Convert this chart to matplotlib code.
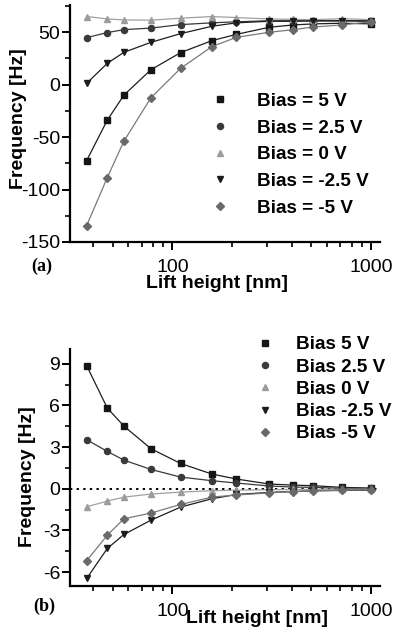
import numpy as np
import matplotlib.pyplot as plt
from matplotlib.ticker import MultipleLocator, LogLocator, NullFormatter, FixedLocator

plt.rcParams['font.family'] = ['Liberation Sans', 'DejaVu Sans']
plt.rcParams['axes.unicode_minus'] = False

# === Data ===
lift_nm = [37, 47, 57, 78, 110, 158, 210, 308, 407, 513, 713, 1000]

# (a) total frequency shift
freq_a_5 = [-72.3, -33.8, -9.9, 14.3, 30.6, 42.0, 48.0, 54.8, 57.0, 58.0, 58.6, 58.0]
freq_a_2p5 = [44.9, 49.7, 52.5, 54.0, 57.3, 59.0, 60.0, 61.0, 61.0, 61.0, 61.2, 61.0]
freq_a_0 = [65.0, 62.7, 61.8, 61.5, 63.4, 65.0, 64.0, 62.7, 62.3, 62.0, 63.0, 62.0]
freq_a_m2p5 = [1.3, 20.4, 30.9, 40.4, 48.7, 55.7, 59.0, 60.5, 60.5, 60.8, 60.8, 60.5]
freq_a_m5 = [-134.4, -88.5, -53.8, -12.4, 15.6, 36.3, 45.2, 50.0, 52.5, 55.0, 57.0, 60.0]

# (b) frequency shift relative to far field
freq_b_5 = [8.86, 5.81, 4.51, 2.88, 1.82, 1.06, 0.70, 0.34, 0.26, 0.22, 0.10, 0.05]
freq_b_2p5 = [3.53, 2.69, 2.06, 1.39, 0.84, 0.58, 0.41, 0.20, 0.12, 0.10, 0.03, 0.02]
freq_b_0 = [-1.30, -0.89, -0.60, -0.38, -0.24, -0.14, -0.10, -0.07, -0.05, -0.05, -0.03, -0.03]
freq_b_m2p5 = [-6.46, -4.30, -3.29, -2.26, -1.32, -0.72, -0.41, -0.26, -0.20, -0.15, -0.12, -0.10]
freq_b_m5 = [-5.18, -3.34, -2.16, -1.75, -1.13, -0.60, -0.45, -0.30, -0.20, -0.15, -0.10, -0.08]

labels_a = ["Bias = 5 V", "Bias = 2.5 V", "Bias = 0 V", "Bias = -2.5 V", "Bias = -5 V"]
labels_b = ["Bias 5 V", "Bias 2.5 V", "Bias 0 V", "Bias -2.5 V", "Bias -5 V"]

# === Styles ===
markers = ['s', 'o', '^', 'v', 'D']
msizes = [4.4, 4.4, 4.8, 4.8, 3.8]
mcolors = ['#151515', '#3a3a3a', '#9c9c9c', '#1c1c1c', '#6a6a6a']
lcolors = ['#1e1e1e', '#3a3a3a', '#a0a0a0', '#1e1e1e', '#7a7a7a']

fig = plt.figure(figsize=(3.94, 6.33), dpi=100)
ax_a = fig.add_axes([70/394, 1-242/633, 310/394, 237/633])
ax_b = fig.add_axes([70/394, 1-586/633, 310/394, 237/633])


def style_axes(ax):
    for s in ['top', 'right']:
        ax.spines[s].set_visible(False)
    for s in ['left', 'bottom']:
        ax.spines[s].set_linewidth(1.6)
    ax.set_xscale('log')
    ax.set_xlim(30.5, 1110)
    ax.xaxis.set_major_locator(FixedLocator([100, 1000]))
    ax.xaxis.set_minor_locator(LogLocator(base=10, subs=np.arange(2, 10)))
    ax.xaxis.set_minor_formatter(NullFormatter())
    ax.set_xticklabels(['100', '1000'])
    ax.tick_params(which='major', direction='out', length=6, width=1.4, labelsize=14)
    ax.tick_params(which='minor', direction='out', length=3.5, width=1.2)
    ax.tick_params(axis='y', pad=1)
    ax.tick_params(axis='x', pad=6.5)


series_a = [freq_a_5, freq_a_2p5, freq_a_0, freq_a_m2p5, freq_a_m5]
series_b = [freq_b_5, freq_b_2p5, freq_b_0, freq_b_m2p5, freq_b_m5]

for ax, series, labels in [(ax_a, series_a, labels_a), (ax_b, series_b, labels_b)]:
    for i, y in enumerate(series):
        ax.plot(lift_nm, y, color=lcolors[i], lw=0.9, zorder=2)
        ax.plot(lift_nm, y, ls='none', marker=markers[i], ms=msizes[i],
                mfc=mcolors[i], mec=mcolors[i], label=labels[i], zorder=3)
    style_axes(ax)

# panel (a)
ax_a.set_ylim(-150, 76)
ax_a.yaxis.set_major_locator(MultipleLocator(50))
ax_a.yaxis.set_minor_locator(MultipleLocator(25))
ax_a.set_ylabel("Frequency [Hz]", fontsize=14, fontweight='bold')
ax_a.yaxis.set_label_coords(-0.14, 0.52)
ax_a.set_xlabel("Lift height [nm]", fontsize=14, fontweight='bold')
ax_a.xaxis.set_label_coords(0.474, -0.138)
ax_a.legend(loc='upper left', bbox_to_anchor=(0.453, 0.63), frameon=False,
            prop={'size': 13.6, 'weight': 'bold'}, handlelength=1.0,
            handletextpad=1.45, borderpad=0, borderaxespad=0, labelspacing=0.5)

# panel (b)
ax_b.axhline(0, color='black', lw=1.4, ls=(0, (1.2, 2.2)), zorder=1)
ax_b.set_ylim(-7, 10.06)
ax_b.yaxis.set_major_locator(MultipleLocator(3))
ax_b.yaxis.set_minor_locator(MultipleLocator(1.5))
ax_b.set_ylabel("Frequency [Hz]", fontsize=14, fontweight='bold')
ax_b.yaxis.set_label_coords(-0.11, 0.46)
ax_b.set_xlabel("Lift height [nm]", fontsize=14, fontweight='bold')
ax_b.xaxis.set_label_coords(0.603, -0.1)
ax_b.legend(loc='upper left', bbox_to_anchor=(0.6, 1.055), frameon=False,
            prop={'size': 13.6, 'weight': 'bold'}, handlelength=1.0,
            handletextpad=1.1, borderpad=0, borderaxespad=0, labelspacing=0.27)

fig.text(42/394, 1-266/633, "(a)", family='Liberation Serif', fontweight='bold',
         fontsize=13, ha='center', va='center')
fig.text(44/394, 1-606/633, "(b)", family='Liberation Serif', fontweight='bold',
         fontsize=13, ha='center', va='center')

fig.savefig("out.png", dpi=100)
